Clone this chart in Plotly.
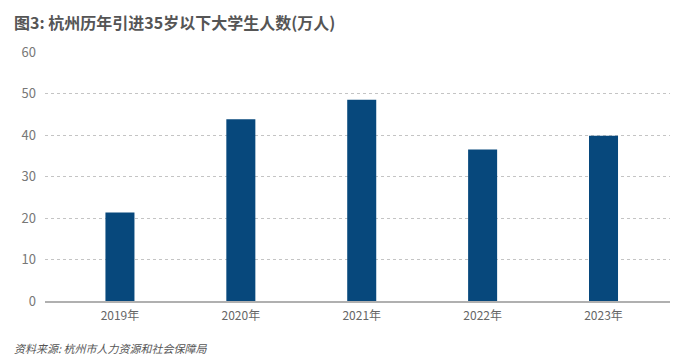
import plotly.graph_objects as go

categories = ["2019年", "2020年", "2021年", "2022年", "2023年"]
values = [21.3, 43.8, 48.5, 36.5, 39.8]
y_ticks = [0, 10, 20, 30, 40, 50, 60]

title_text = "图3: 杭州历年引进35岁以下大学生人数(万人)"
source_text = "资料来源: 杭州市人力资源和社会保障局"

FONT = "Noto Sans CJK SC"

fig = go.Figure()
fig.add_trace(go.Bar(
    x=list(range(len(categories))),
    y=values,
    width=0.24,
    marker=dict(color="#07487c", line=dict(width=0)),
))

fig.update_layout(
    width=684, height=360,
    margin=dict(l=45, r=14, t=52, b=59),
    paper_bgcolor="white", plot_bgcolor="white",
    showlegend=False,
    font=dict(family=FONT, color="#666666", size=12),
    xaxis=dict(
        range=[-0.62, 4.55],
        tickmode="array",
        tickvals=list(range(len(categories))),
        ticktext=categories,
        showgrid=False,
        showline=True, linecolor="#b0b0b0", linewidth=1.5,
        ticks="", tickfont=dict(size=12, color="#666666"),
        ticklabelstandoff=3,
        zeroline=False,
    ),
    yaxis=dict(
        range=[0, 60],
        tickmode="array",
        tickvals=y_ticks,
        showgrid=True, gridcolor="#c4c4c4", griddash="dot", gridwidth=0.8,
        zeroline=False, showline=False,
        ticks="", ticklen=0,
        tickfont=dict(size=13, color="#777777"),
        ticklabelstandoff=8,
    ),
    annotations=[
        dict(text=title_text, xref="paper", yref="paper",
             x=-33/625, y=1 + 30/249, xanchor="left", yanchor="middle",
             showarrow=False,
             font=dict(family=FONT, size=16, color="#555555", weight="bold")),
        dict(text=source_text, xref="paper", yref="paper",
             x=-33/625, y=-47/249, xanchor="left", yanchor="middle",
             showarrow=False,
             font=dict(family=FONT, size=11, color="#555555", style="italic")),
    ],
)

fig.write_html("out.html", config={"displayModeBar": False},
               post_script="document.body.style.margin='0';document.body.style.padding='0';")
